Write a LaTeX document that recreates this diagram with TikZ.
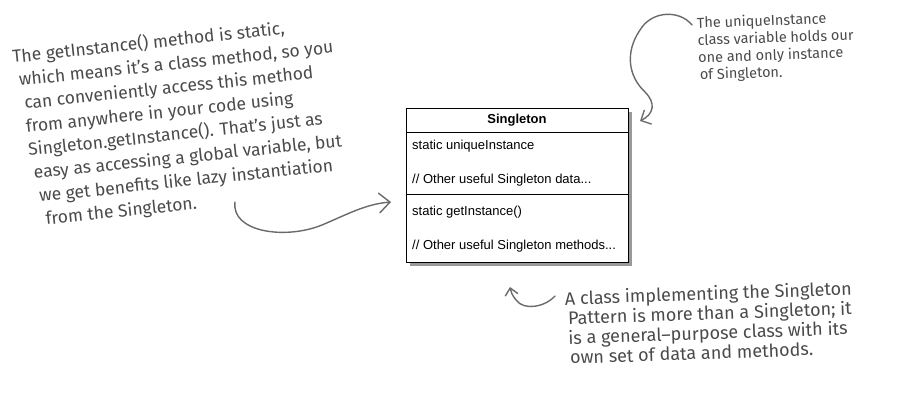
\documentclass[tikz,border=0pt]{standalone}
\usepackage{fontspec}
\setmainfont{Fira Sans}
\newfontfamily\umlfont{Liberation Sans}
\usetikzlibrary{arrows.meta,shadows}
\definecolor{ink}{HTML}{4A4A4A}
\definecolor{arrowgray}{HTML}{6A6A6A}
\begin{document}
\begin{tikzpicture}[x=1pt,y=-1pt,
  note/.style={anchor=base west,inner sep=0pt,align=left,text=ink},
  umlbox/.style={draw=black,line width=0.8pt,fill=white,minimum width=222pt,minimum height=154pt,inner sep=0pt,
    drop shadow={shadow xshift=4pt,shadow yshift=-4pt,fill=black,opacity=0.4}},
  umltext/.style={anchor=west,inner sep=0pt,font=\umlfont\fontsize{13}{15}\selectfont},
  handarrow/.style={draw=arrowgray,line width=1.4pt,line cap=round},
]
\useasboundingbox (0,0) rectangle (907,409);

% UML class box
\node[umlbox] (box) at (517,185) {};
\coordinate (s1) at (406,132);
\coordinate (s2) at (406,194);
\draw[line width=0.8pt] (s1) -- (s1 -| box.east);
\draw[line width=0.8pt] (s2) -- (s2 -| box.east);
\node[inner sep=0pt,font=\umlfont\bfseries\fontsize{13}{15}\selectfont] (title) at (517,120) {Singleton};
\node[umltext] (a1) at (412,146) {static uniqueInstance};
\node[umltext] (a2) at (412,180) {// Other useful Singleton data...};
\node[umltext] (m1) at (412,212) {static getInstance()};
\node[umltext] (m2) at (412,246) {// Other useful Singleton methods...};

% left note (anchored at the baseline of its last line)
\node[note,rotate=6,font=\fontsize{17.5}{23.5}\selectfont] (left) at (30.2,226.6) {%
The getInstance() method is static,\\
\hspace*{4pt}which means it’s a class method, so you\\
\hspace*{7pt}can conveniently access this method\\
\hspace*{6pt}from anywhere in your code using\\
\hspace*{6pt}Singleton.getInstance(). That’s just as\\
\hspace*{9pt}easy as accessing a global variable, but\\
\hspace*{12pt}we get benefits like lazy instantiation\\
\hspace*{16pt}from the Singleton.};

% top right note
\node[note,rotate=2,font=\fontsize{14.5}{17.3}\selectfont] (right) at (698.8,79.9) {%
The uniqueInstance\\
class variable holds our\\
one and only instance\\
\hspace*{1pt}of Singleton.};

% bottom note
\node[note,rotate=2,font=\fontsize{18}{19.7}\selectfont] (bottom) at (567.1,364.1) {%
A class implementing the Singleton\\
\hspace*{2.5pt}Pattern is more than a Singleton; it\\
\hspace*{2pt}is a general–purpose class with its\\
\hspace*{3pt}own set of data and methods.};

% arrows
\coordinate (la0) at (235,202);
\coordinate (la1) at (391,202);
\draw[handarrow,-{Straight Barb[length=11pt,width=20pt]}] (la0) .. controls (231,232) and (285,240) .. (322,225) .. controls (348,214) and (366,204) .. (la1);

\coordinate (ta0) at (692,25);
\coordinate (ta1) at (640,121);
\draw[handarrow,-{Straight Barb[length=8pt,width=16pt]}] (ta0) .. controls (680,10) and (652,10) .. (640,30) .. controls (625,52) and (628,76) .. (645,92) .. controls (656,103) and (654,114) .. (ta1);

\coordinate (ba0) at (555,296);
\coordinate (ba1) at (510,287);
\draw[handarrow,-{Straight Barb[length=7pt,width=13pt]}] (ba0) .. controls (545,307) and (524,311) .. (516,300) .. controls (512,295) and (511,292) .. (ba1);
\end{tikzpicture}
\end{document}
